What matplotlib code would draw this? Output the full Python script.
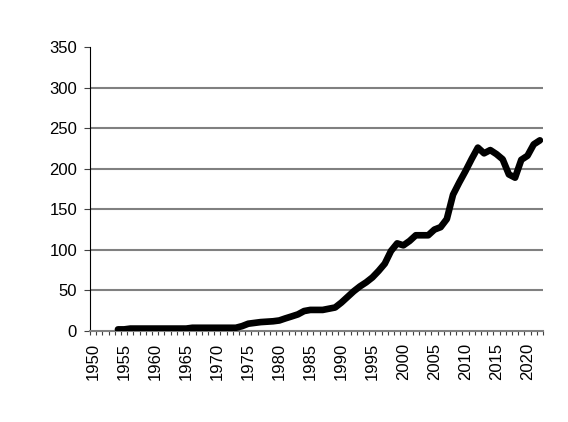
import matplotlib
matplotlib.use("Agg")
import matplotlib.pyplot as plt
import numpy as np

plt.rcParams['font.family'] = ['Liberation Sans', 'DejaVu Sans']

categories = list(range(1950, 2023))
data_years = list(range(1954, 2023))
values = [2, 2, 3, 3, 3, 3, 3, 3, 3, 3, 3, 3,
          4, 4, 4, 4, 4, 4, 4, 4,
          6, 9, 10, 11, 11.5, 12, 13, 15.6, 18, 20.5, 24.6, 26, 26, 26, 27.5, 29,
          35, 42, 49, 55, 60, 66, 74, 83, 98.6, 108, 105.6, 111, 118, 118, 118,
          125, 128, 138, 168, 183, 197, 212, 226, 219, 223, 218, 211.6, 193, 189,
          211, 216, 230, 235]
yticks = [0, 50, 100, 150, 200, 250, 300, 350]

fig = plt.figure(figsize=(5.68, 4.22), dpi=100)
ax = fig.add_axes([0.1585, 0.2156, 0.7975, 0.673])

xpos = [categories.index(y) for y in data_years]
ax.plot(xpos, values, color='black', linewidth=4.8, solid_joinstyle='round', solid_capstyle='round', zorder=3)

ax.set_xlim(-0.5, len(categories) - 0.5)
ax.set_ylim(0, 350)
ax.set_yticks(yticks)
ax.set_yticklabels([str(v) for v in yticks], fontsize=12)
for v in yticks[1:-1]:
    ax.axhline(v, color='#808080', linewidth=1.5, zorder=1)

major = [i for i, y in enumerate(categories) if y % 5 == 0]
ax.set_xticks(major)
ax.set_xticklabels([str(categories[i]) for i in major], rotation=90, fontsize=12)
ax.set_xticks(np.arange(-0.5, len(categories)), minor=True)
ax.tick_params(axis='x', which='major', length=0, pad=8.5)
ax.tick_params(axis='x', which='minor', length=3, direction='out', color='#404040', width=0.8)
ax.tick_params(axis='y', length=4.3, direction='out', color='#404040', width=0.8, pad=5)

for s in ['top', 'right']:
    ax.spines[s].set_visible(False)
ax.spines['left'].set_color('black')
ax.spines['left'].set_linewidth(0.8)
ax.spines['bottom'].set_color('#808080')
ax.spines['bottom'].set_linewidth(1.5)

fig.savefig('out.png', dpi=100)
